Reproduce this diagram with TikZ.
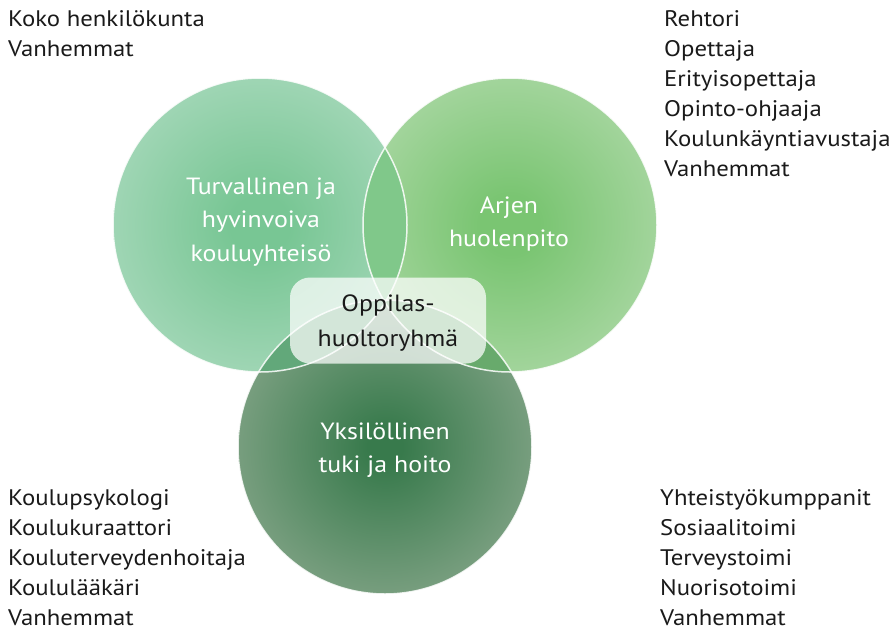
\documentclass[tikz,border=0pt]{standalone}
\usepackage{fontspec}
\setmainfont{PT Sans}[FakeStretch=1.1]
\definecolor{lin}{RGB}{120,198,148}
\definecolor{lout}{RGB}{178,221,196}
\definecolor{rin}{RGB}{122,197,114}
\definecolor{rout}{RGB}{182,220,176}
\definecolor{bin}{RGB}{56,122,76}
\definecolor{bout}{RGB}{148,174,149}
\definecolor{lrcol}{RGB}{128,200,138}
\definecolor{lbcol}{RGB}{98,168,122}
\definecolor{rbcol}{RGB}{104,170,108}
\definecolor{lrbcol}{RGB}{92,160,110}
\definecolor{txt}{RGB}{26,26,26}
\pgfdeclareradialshading{lshade}{\pgfpoint{0bp}{0bp}}{color(0bp)=(lin); color(5bp)=(lin); color(35bp)=(lout); color(50bp)=(lout)}
\pgfdeclareradialshading{rshade}{\pgfpoint{0bp}{0bp}}{color(0bp)=(rin); color(5bp)=(rin); color(35bp)=(rout); color(50bp)=(rout)}
\pgfdeclareradialshading{bshade}{\pgfpoint{0bp}{0bp}}{color(0bp)=(bin); color(3bp)=(bin); color(35bp)=(bout); color(50bp)=(bout)}
\tikzset{
  lst/.style={anchor=base west, inner sep=0pt, font=\fontsize{22.5}{26}\selectfont, text=txt},
  clabel/.style={align=center, inner sep=0pt, text=white, font=\fontsize{23.5}{33.5}\selectfont},
  ring/.style={draw=white, draw opacity=0.85, line width=1.5pt},
}
\begin{document}
\begin{tikzpicture}[x=1pt,y=-1pt]
\useasboundingbox (0,0) rectangle (892,632);
\coordinate (cl) at (260,225);
\coordinate (cr) at (510,225);
\coordinate (cb) at (385,447);
% circles
\shade[shading=lshade] (cl) circle[radius=147pt];
\shade[shading=rshade] (cr) circle[radius=147pt];
\shade[shading=bshade] (cb) circle[radius=147pt];
% overlaps
\begin{scope}
  \clip (cl) circle[radius=147pt];
  \fill[lrcol] (cr) circle[radius=147pt];
\end{scope}
\begin{scope}
  \clip (cl) circle[radius=147pt];
  \fill[lbcol] (cb) circle[radius=147pt];
\end{scope}
\begin{scope}
  \clip (cr) circle[radius=147pt];
  \fill[rbcol] (cb) circle[radius=147pt];
\end{scope}
\begin{scope}
  \clip (cl) circle[radius=147pt];
  \clip (cr) circle[radius=147pt];
  \fill[lrbcol] (cb) circle[radius=147pt];
\end{scope}
% outlines
\draw[ring] (cl) circle[radius=147pt];
\draw[ring] (cr) circle[radius=147pt];
\draw[ring] (cb) circle[radius=147pt];
% circle labels
\node[clabel] (tl) at (261,222) {Turvallinen ja\\hyvinvoiva\\kouluyhteisö};
\node[clabel] (tr) at (509,224) {Arjen\\huolenpito};
\node[clabel] (tb) at (385,450) {Yksilöllinen\\tuki ja hoito};
% centre box
\node[fill=white, fill opacity=0.72, text opacity=1, rounded corners=20pt,
      minimum width=196pt, minimum height=86pt, inner sep=0pt, align=center,
      text depth=0pt, text=txt, font=\fontsize{23.5}{35}\selectfont] (ohr) at (388,320.5) {Oppilas-\\huoltoryhmä};
% lists
\node[lst] (a1) at (8,26) {Koko henkilökunta};
\node[lst] (a2) at (8,56) {Vanhemmat};
\node[lst] (b1) at (664,26) {Rehtori};
\node[lst] (b2) at (664,56) {Opettaja};
\node[lst] (b3) at (664,86) {Erityisopettaja};
\node[lst] (b4) at (664,116) {Opinto-ohjaaja};
\node[lst] (b5) at (664,146) {Koulunkäyntiavustaja};
\node[lst] (b6) at (664,176) {Vanhemmat};
\node[lst] (c1) at (8,505) {Koulupsykologi};
\node[lst] (c2) at (8,535) {Koulukuraattori};
\node[lst] (c3) at (8,565) {Kouluterveydenhoitaja};
\node[lst] (c4) at (8,595) {Koululääkäri};
\node[lst] (c5) at (8,625) {Vanhemmat};
\node[lst] (d1) at (660,505) {Yhteistyökumppanit};
\node[lst] (d2) at (660,535) {Sosiaalitoimi};
\node[lst] (d3) at (660,565) {Terveystoimi};
\node[lst] (d4) at (660,595) {Nuorisotoimi};
\node[lst] (d5) at (660,625) {Vanhemmat};
\end{tikzpicture}
\end{document}
